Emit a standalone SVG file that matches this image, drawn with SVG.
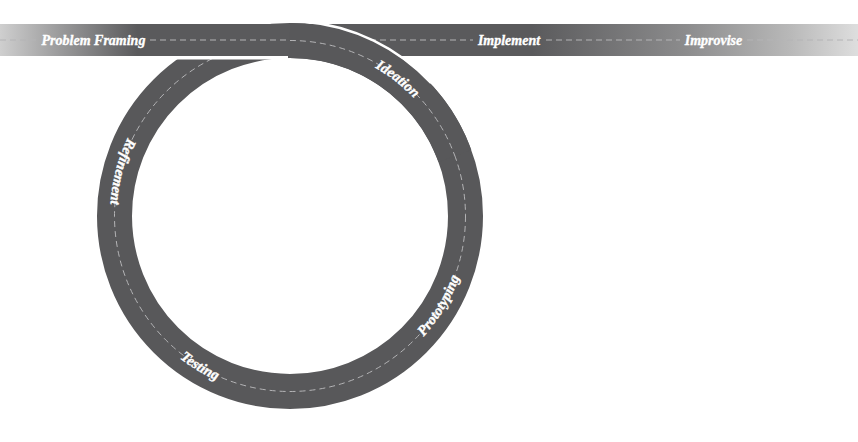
<svg xmlns="http://www.w3.org/2000/svg" width="858" height="442" viewBox="0 0 858 442">
  <style>
    .dash { fill: none; stroke: #b4b4b6; stroke-width: 1; stroke-dasharray: 6 4; }
    .lbl { font-family: "Liberation Serif", "DejaVu Serif", serif; font-weight: bold; font-style: italic; font-size: 14px; fill: #ffffff; stroke: #ffffff; stroke-width: 0.35; }
    .ring { font-size: 14.5px; }
    .track { fill: none; stroke: #58585a; stroke-width: 35; }
  </style>
  <defs>
    <linearGradient id="barGrad" x1="0" y1="0" x2="858" y2="0" gradientUnits="userSpaceOnUse">
      <stop offset="0" stop-color="#cfcfcf"/>
      <stop offset="0.07" stop-color="#9a9a9b"/>
      <stop offset="0.16" stop-color="#5a5a5c"/>
      <stop offset="0.62" stop-color="#5a5a5c"/>
      <stop offset="0.80" stop-color="#8c8c8d"/>
      <stop offset="0.92" stop-color="#b8b8b8"/>
      <stop offset="1" stop-color="#dedede"/>
    </linearGradient>
    <path id="cwPath" d="M 119,216 A 171,171 0 1 1 461,216 A 171,171 0 1 1 119,216"/>
    <path id="ccwPath" d="M 290,36 A 180,180 0 1 0 290,396 A 180,180 0 1 0 290,36"/>
  </defs>

  <g id="loop">
    <circle class="track" cx="290" cy="216" r="175.5"/>
    <circle class="dash" cx="290" cy="216" r="175.5"/>
    <rect x="110" y="56" width="178" height="3.5" fill="#ffffff"/>
  </g>

  <g id="bar">
    <rect x="0" y="24" width="858" height="32" fill="url(#barGrad)"/>
    <path class="dash" d="M 0,40 H 37 M 150,40 H 473 M 546,40 H 680 M 747,40 H 858"/>
  </g>

  <g id="connectors">
    <path class="track" d="M 290,40.5 A 175.5,175.5 0 0 1 454.9,156"/>
    <path d="M 305,21.8 A 194.5,194.5 0 0 1 431,83" fill="none" stroke="#ffffff" stroke-width="2.5"/>
    <path class="dash" d="M 290,40.5 A 175.5,175.5 0 0 1 454.9,156"/>
  </g>

  <g id="node-problem-framing">
    <text class="lbl" x="93.5" y="44.5" text-anchor="middle">Problem Framing</text>
  </g>
  <g id="node-implement">
    <text class="lbl" x="509" y="44.5" text-anchor="middle">Implement</text>
  </g>
  <g id="node-improvise">
    <text class="lbl" x="713.5" y="44.5" text-anchor="middle">Improvise</text>
  </g>
  <g id="node-ideation">
    <text class="lbl ring" text-anchor="middle"><textPath href="#cwPath" startOffset="35.6%">Ideation</textPath></text>
  </g>
  <g id="node-refinement">
    <text class="lbl ring" text-anchor="middle"><textPath href="#ccwPath" startOffset="20.9%">Refinement</textPath></text>
  </g>
  <g id="node-testing">
    <text class="lbl ring" text-anchor="middle"><textPath href="#ccwPath" startOffset="41.4%">Testing</textPath></text>
  </g>
  <g id="node-prototyping">
    <text class="lbl ring" text-anchor="middle"><textPath href="#ccwPath" startOffset="66.4%">Prototyping</textPath></text>
  </g>
</svg>
